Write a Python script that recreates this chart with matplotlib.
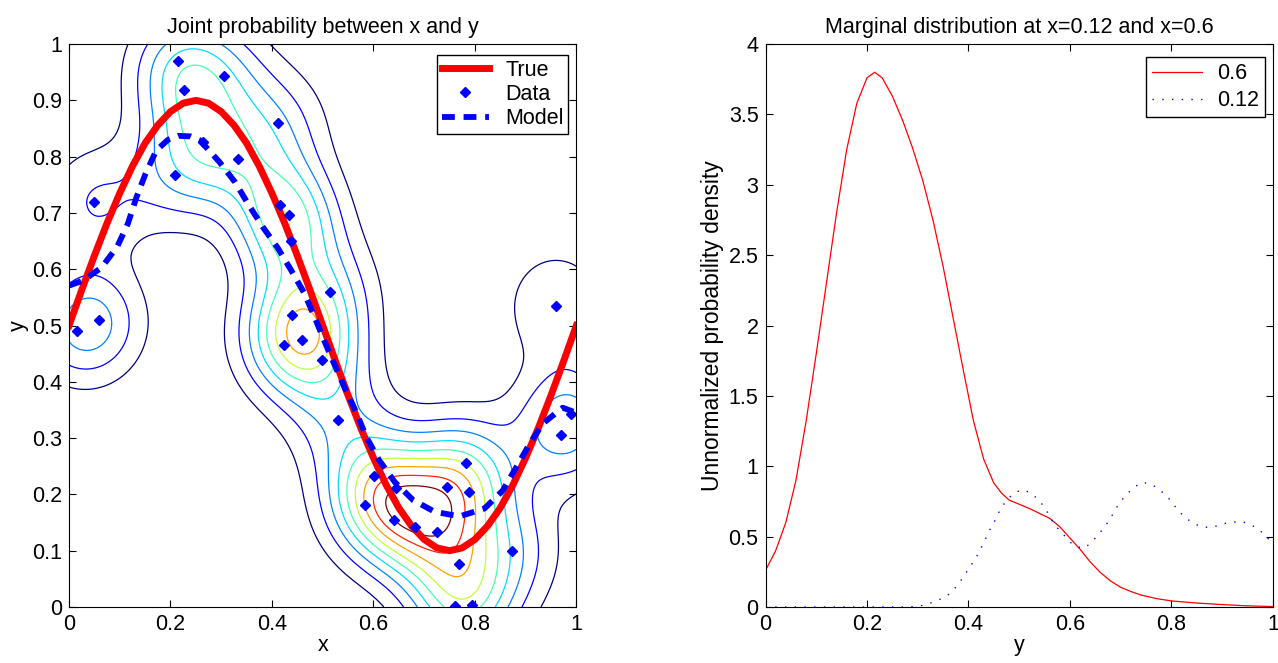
import numpy as np
import matplotlib
matplotlib.use("Agg")
import matplotlib.pyplot as plt

plt.rcParams['font.family'] = ['Liberation Sans', 'DejaVu Sans']

# datos
data_x = [0.215, 0.305, 0.226, 0.412, 0.265, 0.334, 0.209, 0.050, 0.415, 0.433,
          0.438, 0.514, 0.960, 0.440, 0.059, 0.015, 0.460, 0.423, 0.499, 0.990,
          0.530, 0.970, 0.783, 0.602, 0.644, 0.745, 0.788, 0.583, 0.640, 0.681,
          0.726, 0.874, 0.768, 0.760, 0.795]
data_y = [0.970, 0.943, 0.919, 0.859, 0.826, 0.795, 0.768, 0.720, 0.715, 0.696,
          0.651, 0.560, 0.535, 0.518, 0.510, 0.491, 0.475, 0.465, 0.439, 0.342,
          0.332, 0.306, 0.256, 0.233, 0.212, 0.213, 0.204, 0.182, 0.154, 0.142,
          0.133, 0.099, 0.076, 0.002, 0.003]

# curva verdadera
true_x = [i * 0.025 for i in range(41)]
true_y = [0.500, 0.563, 0.624, 0.682, 0.735, 0.783, 0.824, 0.856, 0.880, 0.895,
          0.900, 0.895, 0.880, 0.856, 0.824, 0.783, 0.735, 0.682, 0.624, 0.563,
          0.500, 0.437, 0.376, 0.318, 0.265, 0.217, 0.176, 0.144, 0.120, 0.105,
          0.100, 0.105, 0.120, 0.144, 0.176, 0.217, 0.265, 0.318, 0.376, 0.437,
          0.500]

# modelo
model_x = [0.0, 0.028, 0.064, 0.095, 0.116, 0.133, 0.151, 0.172, 0.195, 0.215,
           0.240, 0.258, 0.297, 0.327, 0.355, 0.382, 0.412, 0.438, 0.464, 0.484,
           0.504, 0.524, 0.544, 0.566, 0.586, 0.611, 0.642, 0.678, 0.721, 0.770,
           0.819, 0.855, 0.882, 0.908, 0.934, 0.973, 1.0]
model_y = [0.571, 0.580, 0.603, 0.640, 0.681, 0.728, 0.770, 0.811, 0.830, 0.837,
           0.836, 0.829, 0.790, 0.755, 0.713, 0.675, 0.637, 0.598, 0.557, 0.515,
           0.471, 0.429, 0.388, 0.346, 0.302, 0.261, 0.222, 0.190, 0.169, 0.161,
           0.175, 0.207, 0.249, 0.290, 0.326, 0.354, 0.345]

# marginal en x=0.6
m06_y = [0.0, 0.02, 0.04, 0.06, 0.08, 0.10, 0.12, 0.14, 0.16, 0.18,
         0.20, 0.215, 0.23, 0.25, 0.27, 0.29, 0.31, 0.33, 0.35, 0.37,
         0.39, 0.41, 0.43, 0.45, 0.465, 0.48, 0.50, 0.52, 0.54, 0.56,
         0.58, 0.60, 0.62, 0.64, 0.66, 0.68, 0.70, 0.72, 0.74, 0.77,
         0.80, 0.85, 0.90, 0.95, 1.0]
m06_p = [0.26, 0.40, 0.60, 0.90, 1.32, 1.80, 2.30, 2.80, 3.25, 3.58,
         3.76, 3.80, 3.76, 3.63, 3.46, 3.26, 3.03, 2.75, 2.42, 2.05,
         1.68, 1.32, 1.05, 0.88, 0.81, 0.76, 0.73, 0.70, 0.665, 0.63,
         0.57, 0.49, 0.41, 0.32, 0.245, 0.185, 0.14, 0.11, 0.085, 0.06,
         0.043, 0.028, 0.017, 0.008, 0.003]

# marginal en x=0.12
m012_y = [0.0, 0.28, 0.301, 0.319, 0.337, 0.358, 0.370, 0.381, 0.392, 0.403,
          0.414, 0.423, 0.432, 0.439, 0.450, 0.457, 0.468, 0.479, 0.493, 0.509,
          0.526, 0.541, 0.553, 0.562, 0.573, 0.588, 0.599, 0.613, 0.628, 0.644,
          0.657, 0.669, 0.680, 0.689, 0.700, 0.713, 0.727, 0.742, 0.760, 0.776,
          0.790, 0.802, 0.815, 0.829, 0.843, 0.861, 0.882, 0.900, 0.918, 0.938,
          0.954, 0.972, 0.987, 1.0]
m012_p = [0.0, 0.0, 0.005, 0.02, 0.043, 0.079, 0.12, 0.167, 0.226, 0.286,
          0.345, 0.405, 0.469, 0.531, 0.595, 0.655, 0.721, 0.774, 0.817, 0.833,
          0.802, 0.75, 0.69, 0.631, 0.571, 0.512, 0.464, 0.429, 0.417, 0.464,
          0.519, 0.571, 0.631, 0.69, 0.75, 0.805, 0.852, 0.886, 0.874, 0.833,
          0.793, 0.738, 0.679, 0.631, 0.595, 0.567, 0.567, 0.59, 0.602, 0.607,
          0.59, 0.552, 0.5, 0.45]

fs = 15.5

fig = plt.figure(figsize=(12.78, 6.63), dpi=100)
ax1 = fig.add_axes([0.054, 0.0845, 0.397, 0.849])
ax2 = fig.add_axes([0.599, 0.0845, 0.397, 0.849])

# densidad conjunta (kernel gaussiano sobre los datos)
h = 0.07
gx = np.linspace(0, 1, 201)
GX, GY = np.meshgrid(gx, gx)
Z = np.zeros_like(GX)
for px, py in zip(data_x, data_y):
    Z += np.exp(-((GX - px) ** 2 + (GY - py) ** 2) / (2 * h * h))

levels = np.linspace(0, Z.max(), 11)[1:10]
pos = [0, 0.125, 0.25, 0.34, 0.43, 0.58, 0.74, 0.87, 1.0]
cols = plt.cm.jet(pos)
ax1.contour(GX, GY, Z, levels=levels, colors=cols, linewidths=0.9)

ax1.plot(true_x, true_y, color='red', lw=5, label='True')
ax1.plot(data_x, data_y, 'bD', ms=5.5, ls='none', label='Data')
ax1.plot(model_x, model_y, color='blue', lw=4.2, ls=(0, (2.2, 1.5)), label='Model')

ax1.set_xlim(0, 1)
ax1.set_ylim(0, 1)
ax1.set_xticks(np.arange(0, 1.01, 0.2))
ax1.set_xticklabels(['0', '0.2', '0.4', '0.6', '0.8', '1'])
ax1.set_yticks(np.arange(0, 1.01, 0.1))
ax1.set_yticklabels(['0', '0.1', '0.2', '0.3', '0.4', '0.5', '0.6', '0.7', '0.8', '0.9', '1'])
ax1.set_title('Joint probability between x and y', fontsize=fs, pad=8)
ax1.set_xlabel('x', fontsize=fs, labelpad=0)
ax1.set_ylabel('y', fontsize=fs, labelpad=2)
ax1.legend(loc='upper right', bbox_to_anchor=(0.984, 0.981), borderaxespad=0,
           fontsize=fs, fancybox=False, edgecolor='black', framealpha=1,
           handlelength=2.2, labelspacing=0.16, borderpad=0.22, handletextpad=0.75)

ax2.plot(m06_y, m06_p, color='red', lw=0.9, label='0.6')
ax2.plot(m012_y, m012_p, color='blue', lw=1.0, ls=(0, (1, 6)), label='0.12')
ax2.set_xlim(0, 1)
ax2.set_ylim(0, 4)
ax2.set_xticks(np.arange(0, 1.01, 0.2))
ax2.set_xticklabels(['0', '0.2', '0.4', '0.6', '0.8', '1'])
ax2.set_yticks(np.arange(0, 4.01, 0.5))
ax2.set_yticklabels(['0', '0.5', '1', '1.5', '2', '2.5', '3', '3.5', '4'])
ax2.set_title('Marginal distribution at x=0.12 and x=0.6', fontsize=fs, pad=8)
ax2.set_xlabel('y', fontsize=fs, labelpad=0)
ax2.set_ylabel('Unnormalized probability density', fontsize=16.5, labelpad=3)
ax2.legend(loc='upper right', bbox_to_anchor=(0.984, 0.977), borderaxespad=0,
           fontsize=fs, fancybox=False, edgecolor='black', framealpha=1,
           handlelength=2.3, labelspacing=0.28, borderpad=0.28, handletextpad=0.7)

for ax in (ax1, ax2):
    ax.tick_params(direction='in', top=True, right=True, labelsize=fs, length=5, pad=5)
    for s in ax.spines.values():
        s.set_linewidth(0.8)

fig.savefig('out.png', dpi=100)
